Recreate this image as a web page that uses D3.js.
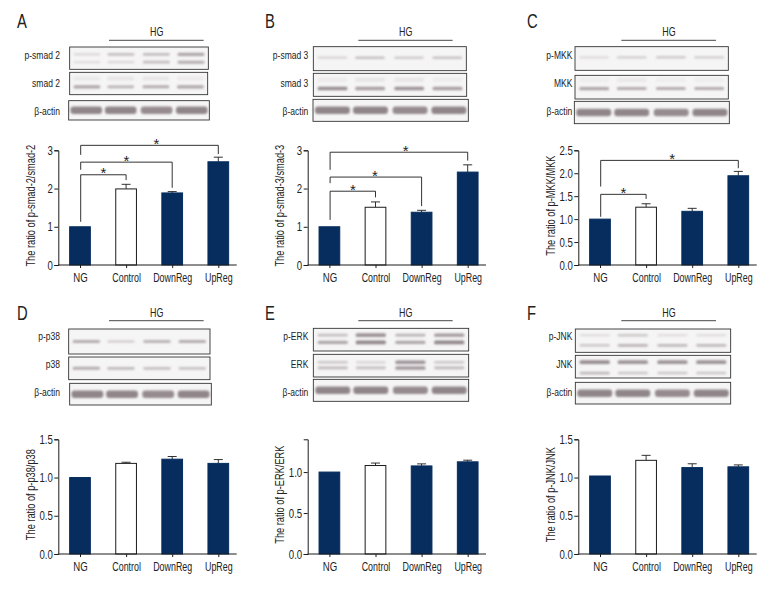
<!DOCTYPE html>
<html><head><meta charset="utf-8">
<script src="https://cdn.jsdelivr.net/npm/d3@7"></script>
<style>
html,body{margin:0;padding:0;background:#fff}
text{font-family:"Liberation Sans",sans-serif;fill:#222}
</style></head><body><svg id="c" width="780" height="600"></svg>
<script>
// ---------- data ----------
const categories = ["NG","Control","DownReg","UpReg"];
const panelLetters = ["A","B","C","D","E","F"];
const yTitles = ["The ratio of p-smad-2/smad-2","The ratio of p-smad-3/smad-3","The ratio of p-MKK/MKK","The ratio of p-p38/p38","The ratio of p-ERK/ERK","The ratio of p-JNK/JNK"];
const yTicks = [[0,1,2,3],[0,1,2,3],[0,0.5,1,1.5,2,2.5],[0,0.5,1,1.5],[0,0.5,1],[0,0.5,1,1.5]];
const yMax = [3,3,2.5,1.5,1.4,1.5];
const valuesA = [1,1.99,1.885,2.70], errA = [0,2.11,1.92,2.82];
const valuesB = [1,1.51,1.38,2.43], errB = [0,1.65,1.43,2.62];
const valuesC = [1,1.26,1.17,1.945], errC = [0,1.335,1.235,2.04];
const valuesD = [1,1.185,1.24,1.185], errD = [0,1.20,1.275,1.235];
const valuesE = [1,1.08,1.075,1.125], errE = [0,1.11,1.10,1.145];
const valuesF = [1.02,1.225,1.13,1.14], errF = [0,1.29,1.18,1.165];
const values = [valuesA,valuesB,valuesC,valuesD,valuesE,valuesF];
const errTops = [errA,errB,errC,errD,errE,errF];
// significance brackets: [target category index, top, left foot, right foot, star fraction along bracket]
const sigA = [[1,2.36,1.13,2.22,.5],[2,2.69,2.49,2.02,.5],[3,3.13,2.88,2.90,.55]];
const sigB = [[1,1.93,1.18,1.77,.5],[2,2.30,2.14,1.54,.49],[3,2.95,2.49,2.73,.55]];
const sigC = [[1,1.54,1.05,1.44,.5],[3,2.28,1.71,2.11,.52]];
const sigs = [sigA,sigB,sigC,[],[],[]];
const blotLabels = [["p-smad 2","smad 2","β-actin"],["p-smad 3","smad 3","β-actin"],["p-MKK","MKK","β-actin"],["p-p38","p38","β-actin"],["p-ERK","ERK","β-actin"],["p-JNK","JNK","β-actin"]];
const groupLabel = "HG";
// blot bands: per row, list of [relative height, lane intensities]
const actinBand = [[0.5,[.85,.85,.8,.85]]];
const blotA = [[[.33,[.22,.4,.42,.6]],[.68,[.2,.22,.42,.55]]],[[.28,[.08,.1,.1,.06]],[.65,[.6,.5,.55,.6]]],actinBand];
const blotB = [[[.46,[.25,.4,.3,.38]]],[[.28,[.06,.1,.1,.05]],[.66,[.8,.65,.75,.65]]],actinBand];
const blotC = [[[.45,[.2,.3,.32,.3]]],[[.2,[.04,.08,.04,.04]],[.56,[.6,.55,.55,.55]]],actinBand];
const blotD = [[[.5,[.55,.28,.5,.55]]],[[.5,[.55,.45,.4,.38]]],actinBand];
const blotE = [[[.3,[.4,.75,.5,.7]],[.62,[.6,.85,.6,.85]]],[[.35,[.35,.25,.75,.35]],[.6,[.45,.4,.7,.45]]],actinBand];
const blotF = [[[.27,[.2,.35,.2,.2]],[.7,[.35,.5,.45,.45]]],[[.3,[.8,.75,.75,.75]],[.78,[.45,.35,.35,.35]]],actinBand];
const blots = [blotA,blotB,blotC,blotD,blotE,blotF];

// ---------- layout (not data) ----------
const rowY = [265,554];       // axis baseline
const yTop = [150.3,439.3];
const z=(a,b,c,d,e,ox,oy)=>[ox+a/3,ox+b/3,oy+c/3,oy+d/3,oy+e/3];
const frames = [
 [z(209,625,141,208,165,0,0),z(209,623,217,284,250,0,0),z(206,628,302,360,333,0,0)],
 [z(160,619,140,212,165,260,0),z(160,620,220,289,250,260,0),z(159,625,298,364,333,260,0)],
 [z(165,625,140,211,165,520,0),z(165,625,226,297,250,520,0),z(163,628,304,371,333,520,0)],
 [z(206,630,102,177,122,0,295),z(206,630,186,254,207,0,295),z(209,634,265,330,292,0,295)],
 [z(160,626,100,168,122,260,295),z(160,626,178,246,207,260,295),z(160,626,253,319,292,260,295)],
 [z(166,632,102,172,122,520,295),z(166,632,181,249,207,520,295),z(166,632,262,327,292,520,295)]
];
const labelRight = [60,260+145/3,520+157/3,60,260+145/3,520+157/3];
const hgX = [470/3,260+437/3,520+447/3,470/3,260+437/3,520+447/3];
const hgLine = [[327/3,611/3],[260+295/3,260+578/3],[520+304/3,520+588/3],[327/3,611/3],[260+295/3,260+578/3],[520+304/3,520+588/3]];
const letterX = [17,265,527,17,265,527];
const axisX0 = [58.3,307.7,578.3,58.3,307.7,578.3];
const axisX1 = [236.7,486,756.7,236.7,486,756.7];
const lanePos = [.125,.37,.625,.875];
const navy = "#062d5e", ink="#1c1c1c", squeeze=.74;

const svg = d3.select("#c");
const defs = svg.append("defs");
defs.append("filter").attr("id","blur").attr("x","-20%").attr("y","-80%").attr("width","140%").attr("height","260%")
  .append("feGaussianBlur").attr("stdDeviation","0.9");
const grey = d3.scaleLinear().domain([0,1]).range(["#f3f2f2","#7f7378"]);

panelLetters.forEach((L,i)=>{
  const row = i<3?0:1, g = svg.append("g");
  const x0 = axisX0[i], base = rowY[row], top = yTop[row];
  const sx = d3.scalePoint().domain(categories).range([x0+21.7,x0+160]);
  const sy = d3.scaleLinear().domain([0,yMax[i]]).range([base,top]);

  g.append("text").attr("x",letterX[i]).attr("y",row?320:28.3).attr("font-size",20).text(L);
  g.append("text").attr("x",hgX[i]).attr("y",row?312.3:32).attr("dy","0.35em").attr("text-anchor","middle").attr("font-size",12).text(groupLabel);
  g.append("line").attr("x1",hgLine[i][0]).attr("x2",hgLine[i][1]).attr("y1",row?320.7:40.3).attr("y2",row?320.7:40.3).attr("stroke","#333").attr("stroke-width",.9);

  frames[i].forEach((f,r)=>{
    const [a,b,c,d,ly]=f, W=b-a, H=d-c;
    g.append("rect").attr("x",a).attr("y",c).attr("width",W).attr("height",H).attr("fill","#f6f5f5");
    const isActin = r===2;
    const bg = g.append("g").attr("filter","url(#blur)");
    blots[i][r].forEach(([ry,ints])=>{
      ints.forEach((v,k)=>{
        const w = W*(isActin?.225:.195), h = isActin?7.5:(v<.12?4:1.6+v*2.6);
        bg.append("rect").attr("x",a+W*lanePos[k]-w/2).attr("y",c+H*ry-h/2)
          .attr("width",w).attr("height",h).attr("rx",isActin?3:1.5).attr("fill",grey(v));
      });
    });
    g.append("rect").attr("x",a).attr("y",c).attr("width",W).attr("height",H).attr("fill","none").attr("stroke","#333").attr("stroke-width",.9);
    g.append("text").attr("x",labelRight[i]).attr("y",ly).attr("dy","0.35em").attr("text-anchor","end").attr("font-size",11.5).text(blotLabels[i][r]);
  });

  const bw = 20.7;
  errTops[i].forEach((e,k)=>{
    if(!e) return;
    const cx = sx(categories[k]);
    g.append("path").attr("d",`M${cx},${sy(values[i][k])}V${sy(e)}M${cx-4.5},${sy(e)}H${cx+4.5}`).attr("stroke",ink).attr("stroke-width",.9).attr("fill","none");
  });
  g.selectAll("rect.bar").data(values[i]).join("rect").attr("class","bar")
    .attr("x",(d,k)=>sx(categories[k])-bw/2).attr("width",bw)
    .attr("y",d=>sy(d)).attr("height",d=>base-sy(d))
    .attr("fill",(d,k)=>k===1?"#fff":navy)
    .attr("stroke",(d,k)=>k===1?ink:navy).attr("stroke-width",1);

  const ax = d3.axisLeft(sy).tickValues(yTicks[i]).tickSize(4).tickPadding(1.5)
     .tickFormat(yMax[i]===3?d3.format("d"):d3.format(".1f"));
  const ya = g.append("g").attr("transform",`translate(${x0},0)`).call(ax);
  ya.selectAll("text").attr("font-size",13);
  ya.selectAll("line,path").attr("stroke",ink).attr("stroke-width",1);
  const xa = g.append("g").attr("transform",`translate(0,${base})`).call(d3.axisBottom(sx).tickSize(3).tickPadding(5));
  xa.select(".domain").remove();
  xa.selectAll("line").attr("stroke",ink).attr("stroke-width",1);
  xa.selectAll("text").attr("font-size",d=>d==="NG"?13:12);
  g.append("line").attr("x1",x0).attr("x2",axisX1[i]).attr("y1",base).attr("y2",base).attr("stroke",ink).attr("stroke-width",1);

  g.append("text").attr("transform",`translate(${x0-27.7},${(base+top)/2-2}) rotate(-90)`)
    .attr("text-anchor","middle").attr("dy","0.35em").attr("font-size",12.5).text(yTitles[i]);

  // condense every label so it reads as a narrow typeface
  g.selectAll("text").each(function(){
    this.setAttribute("lengthAdjust","spacingAndGlyphs");
    this.setAttribute("textLength",this.getComputedTextLength()*squeeze);
  });

  sigs[i].forEach(([t,topV,lf,rf,frac])=>{
    const xl = sx(categories[0])+.7, xr = sx(categories[t]);
    g.append("path").attr("d",`M${xl},${sy(lf)}V${sy(topV)}H${xr}V${sy(rf)}`).attr("fill","none").attr("stroke",ink).attr("stroke-width",.9);
    g.append("text").attr("x",xl+(xr-xl)*frac).attr("y",sy(topV)+3.7).attr("text-anchor","middle").attr("font-size",15).text("*");
  });
});
</script></body></html>
